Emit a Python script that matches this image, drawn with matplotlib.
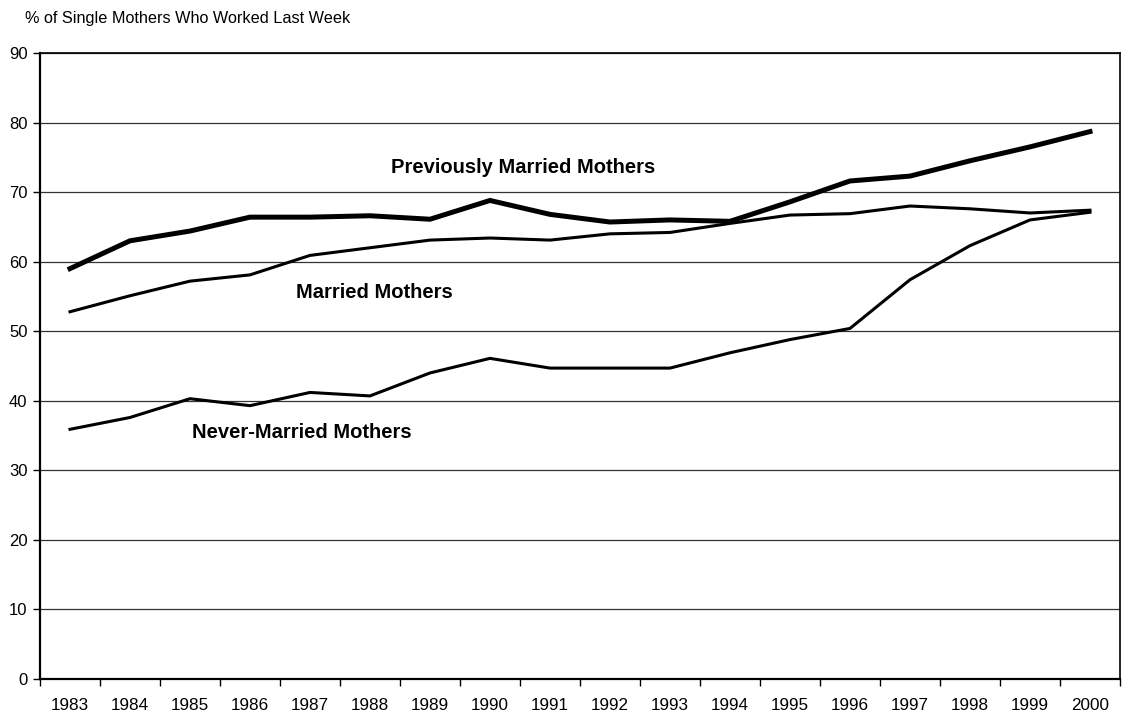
import matplotlib
matplotlib.use("Agg")
import matplotlib.pyplot as plt
import numpy as np

plt.rcParams['font.family'] = ['Liberation Sans', 'DejaVu Sans']

# data
years = ["1983", "1984", "1985", "1986", "1987", "1988", "1989", "1990", "1991",
         "1992", "1993", "1994", "1995", "1996", "1997", "1998", "1999", "2000"]
previously_married = [59.0, 63.0, 64.4, 66.4, 66.4, 66.6, 66.1, 68.8, 66.8,
                      65.7, 66.0, 65.8, 68.6, 71.6, 72.3, 74.5, 76.5, 78.7]
married = [52.8, 55.1, 57.2, 58.1, 60.9, 62.0, 63.1, 63.4, 63.1,
           64.0, 64.2, 65.5, 66.7, 66.9, 68.0, 67.6, 67.0, 67.4]
never_married = [35.9, 37.6, 40.3, 39.3, 41.2, 40.7, 44.0, 46.1, 44.7,
                 44.7, 44.7, 46.9, 48.8, 50.4, 57.4, 62.3, 66.0, 67.1]

fig = plt.figure(figsize=(11.33, 7.15), dpi=100)
ax = fig.add_axes([0.0353, 0.0503, 0.9532, 0.8756])

xs = np.arange(len(years))
ax.plot(xs, previously_married, color="black", lw=3.6, solid_joinstyle="miter")
ax.plot(xs, married, color="black", lw=2.2)
ax.plot(xs, never_married, color="black", lw=2.2)

ax.set_xlim(-0.5, len(years) - 0.5)
ax.set_ylim(0, 90)
ax.set_yticks(np.arange(0, 91, 10))
ax.yaxis.grid(True, color="#333333", lw=0.9)
ax.set_axisbelow(True)

# category labels centred, tick marks between categories
ax.set_xticks(xs)
ax.set_xticklabels(years, fontsize=12.3)
ax.set_xticks(np.arange(-0.5, len(years), 1), minor=True)
ax.tick_params(axis="x", which="major", length=0, pad=14)
ax.tick_params(axis="x", which="minor", length=5, width=1, direction="out")
ax.tick_params(axis="y", labelsize=12, length=5, width=1, direction="out", pad=4)

for s in ax.spines.values():
    s.set_color("black")
    s.set_linewidth(1.2)
ax.spines["left"].set_linewidth(1.6)
ax.spines["bottom"].set_linewidth(1.6)

ax.text(7.55, 73.5, "Previously Married Mothers", fontsize=14.5, fontweight="bold",
        ha="center", va="center")
ax.text(5.07, 55.5, "Married Mothers", fontsize=14.5, fontweight="bold",
        ha="center", va="center")
ax.text(3.87, 35.4, "Never-Married Mothers", fontsize=14.5, fontweight="bold",
        ha="center", va="center")

fig.text(25 / 1133, 1 - 18 / 715, "% of Single Mothers Who Worked Last Week",
         fontsize=11.7, ha="left", va="center")

fig.savefig("out.png", dpi=100)
